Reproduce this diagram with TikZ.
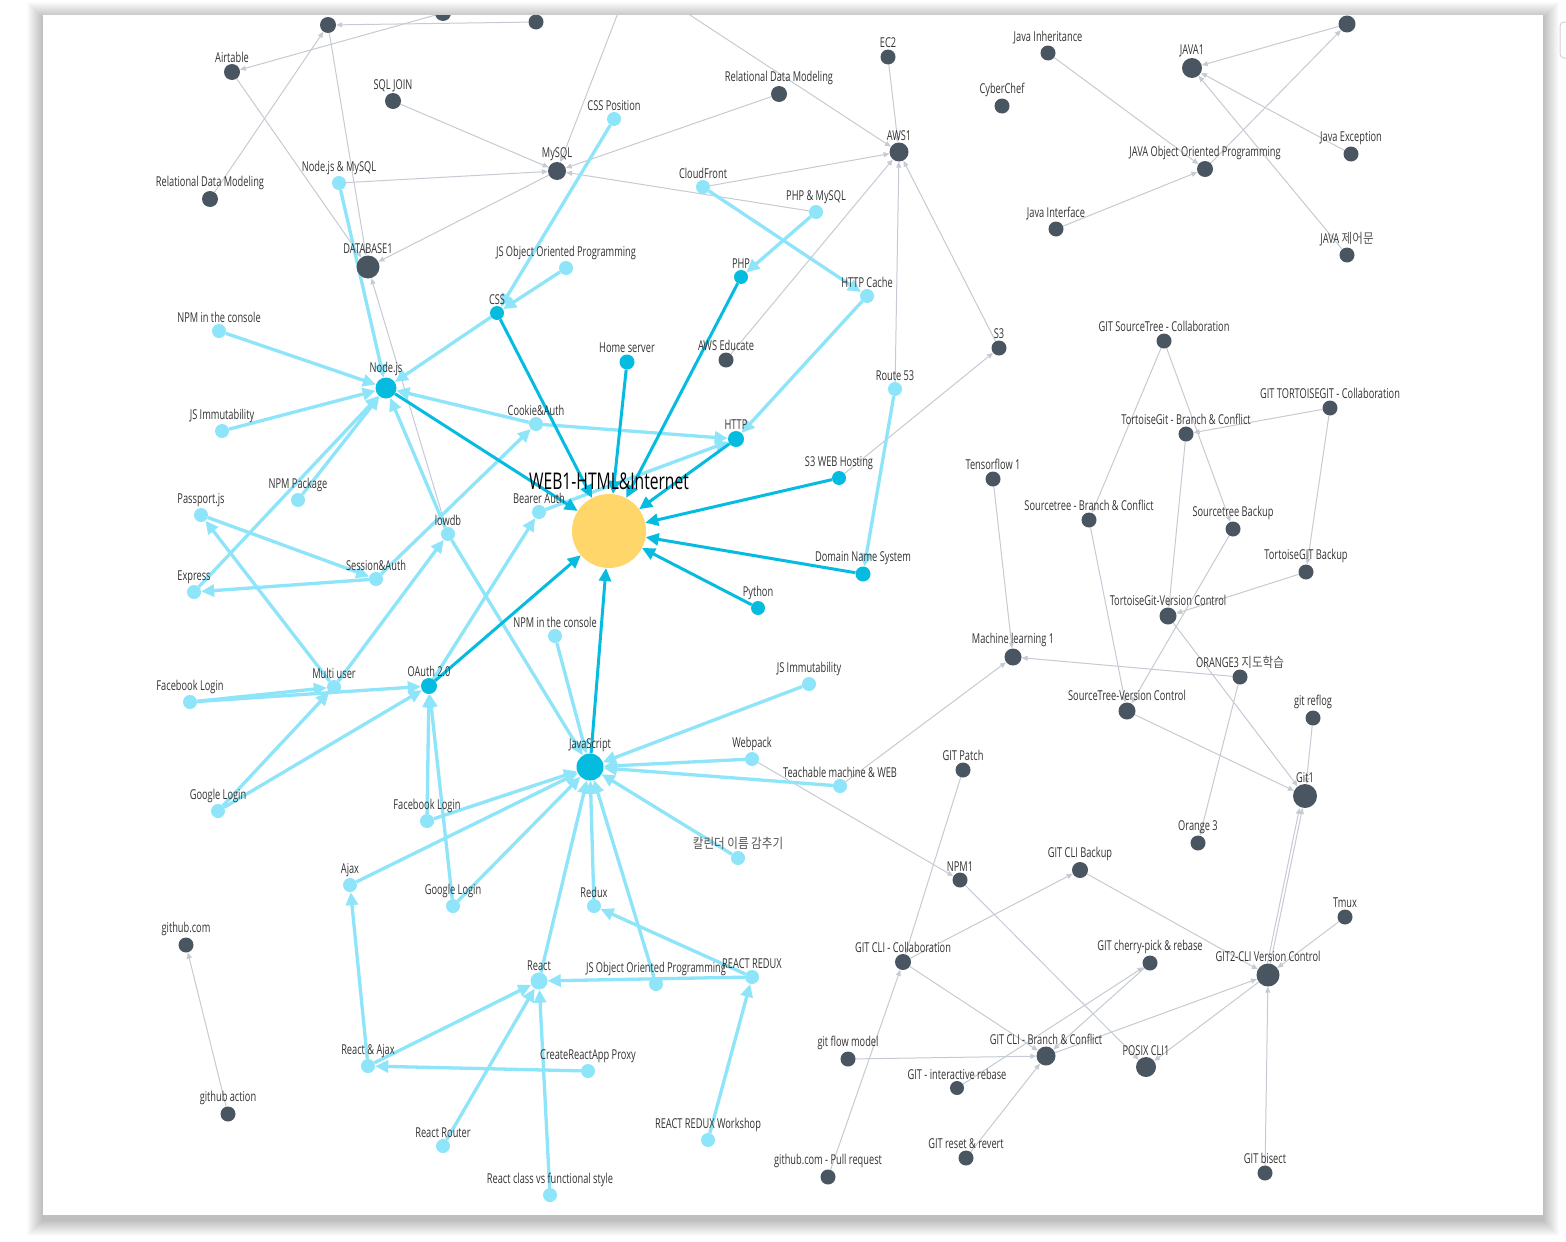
\documentclass[tikz,border=0pt]{standalone}
\usepackage{fontspec}
\setmainfont{Open Sans}[FakeStretch=0.68]
\newfontfamily\kr{Noto Sans CJK KR}[FakeStretch=0.85,Color=555555]
\usetikzlibrary{arrows.meta}
\definecolor{cdk}{HTML}{4A5562}
\definecolor{clt}{HTML}{8EE4F9}
\definecolor{cmd}{HTML}{05BCE0}
\definecolor{cyl}{HTML}{FFD669}
\definecolor{cgr}{HTML}{C6CBD3}
\definecolor{ctx}{HTML}{333333}
\pgfdeclarelayer{bgl}
\pgfdeclarelayer{edl}
\pgfsetlayers{bgl,edl,main}
\newcommand\mynode[5]{\node[#1,label={[lbl]90:#5}] (#2) at (#3,#4) {};}
\begin{document}
\begin{tikzpicture}[x=1pt,y=-1pt,
  nd/.style={circle,inner sep=0pt,minimum size=#1},
  ndk/.style={nd=#1,fill=cdk}, ndk/.default=16,
  nlt/.style={nd=#1,fill=clt}, nlt/.default=14,
  nmd/.style={nd=#1,fill=cmd}, nmd/.default=15,
  nyl/.style={nd=#1,fill=cyl}, nyl/.default=74,
  lbl/.style={font=\fontsize{13.6}{15}\selectfont,text=ctx,inner sep=1pt},
  lblbig/.style={font=\fontsize{23}{25}\selectfont,text=black,inner sep=1pt},
  label distance=0pt,
  egr/.style={draw=cgr,line width=1pt,-{Triangle[length=6pt,width=5pt]}},
  elt/.style={draw=clt,line width=3.3pt,-{Triangle[length=13pt,width=12pt]}},
  emd/.style={draw=cmd,line width=3pt,-{Triangle[length=13pt,width=12pt]}}]
\useasboundingbox (0,0) rectangle (1566,1242);
\begin{pgfonlayer}{bgl}
  \fill[white] (0,0) rectangle (1566,1242);
  \foreach \i in {1,...,16}
    \fill[black,opacity=0.016] (43-\i,15-\i+3) rectangle (1543+\i,1215+\i+5);
  \fill[white] (43,15) rectangle (1543,1215);
  \draw[gray!35,line width=1pt,rounded corners=4pt] (1560,22) rectangle (1590,58);
\end{pgfonlayer}
\begin{scope}
\clip (43,15) rectangle (1543,1215);
% unlabeled nodes
\node[ndk] (t1) at (328,25) {};
\node[ndk] (t2) at (443,13) {};
\node[ndk=15] (t3) at (536,22) {};
\node[ndk=17] (t4) at (1347,24) {};
\coordinate (offA) at (623,0);
\coordinate (offB) at (667,0);
% database / node cluster
\mynode{ndk}{airtable}{232}{72}{Airtable}
\mynode{ndk}{sqljoin}{393}{101}{SQL JOIN}
\mynode{ndk}{rdml}{210}{199}{Relational Data Modeling}
\mynode{nlt}{nodemysql}{339}{183}{Node.js \& MySQL}
\mynode{ndk=23}{db1}{368}{267}{DATABASE1}
\mynode{nlt}{npmc1}{219}{331}{NPM in the console}
\mynode{nmd=21}{nodejs}{386}{388}{Node.js}
\mynode{nlt}{jsim1}{222}{431}{JS Immutability}
\mynode{nlt}{npmpkg}{298}{500}{NPM Package}
\mynode{nlt}{passport}{201}{515}{Passport.js}
\mynode{nlt}{session}{376}{579}{Session\&Auth}
\mynode{nlt}{express}{194}{592}{Express}
\mynode{nlt}{multi}{334}{687}{Multi user}
\mynode{nlt}{fb1}{190}{702}{Facebook Login}
\mynode{nmd=16}{oauth}{429}{686}{OAuth 2.0}
\mynode{nlt}{gl1}{218}{811}{Google Login}
\mynode{nlt}{lowdb}{448}{534}{lowdb}
\mynode{nlt}{cookie}{536}{424}{Cookie\&Auth}
\mynode{nlt}{bearer}{539}{512}{Bearer Auth}
\mynode{nmd=16}{http}{736}{439}{HTTP}
\node[nyl,label={[lblbig,label distance=3pt]90:WEB1-HTML\&Internet}] (web1) at (609,531) {};
\mynode{nmd=14}{python}{758}{608}{Python}
\mynode{nlt}{npmc2}{555}{636}{NPM in the console}
\mynode{nmd=27}{js}{590}{767}{JavaScript}
\mynode{nlt}{webpack}{752}{759}{Webpack}
\mynode{nlt}{jsim2}{809}{684}{JS Immutability}
\mynode{nlt}{teach}{840}{786}{Teachable machine \& WEB}
\mynode{nmd=14}{css}{497}{313}{CSS}
\mynode{nlt}{csspos}{614}{119}{CSS Position}
\mynode{nlt}{jsoop1}{566}{268}{JS Object Oriented Programming}
\mynode{ndk=18}{mysql}{557}{171}{MySQL}
\mynode{ndk}{rdmt}{779}{94}{Relational Data Modeling}
\mynode{nlt}{cloudfront}{703}{187}{CloudFront}
\mynode{nmd=14}{php}{741}{277}{PHP}
\mynode{nmd}{home}{627}{362}{Home server}
\mynode{ndk=15}{awsedu}{726}{360}{AWS Educate}
\mynode{nlt}{phpmysql}{816}{212}{PHP \& MySQL}
\mynode{ndk=15}{ec2}{888}{57}{EC2}
\mynode{ndk=19}{aws1}{899}{152}{AWS1}
\mynode{nlt}{httpcache}{867}{296}{HTTP Cache}
\mynode{ndk=15}{s3}{999}{348}{S3}
\mynode{nlt}{route53}{895}{389}{Route 53}
\mynode{nmd=14}{s3web}{839}{478}{S3 WEB Hosting}
\mynode{nmd}{dns}{863}{574}{Domain Name System}
% java cluster
\mynode{ndk=15}{javainh}{1048}{53}{Java Inheritance}
\mynode{ndk=15}{cyberchef}{1002}{106}{CyberChef}
\mynode{ndk=15}{javaint}{1056}{229}{Java Interface}
\mynode{ndk=20}{java1}{1192}{68}{JAVA1}
\mynode{ndk}{javaoop}{1205}{169}{JAVA Object Oriented Programming}
\mynode{ndk=15}{javaexc}{1351}{154}{Java Exception}
\mynode{ndk=15}{javactl}{1347}{255}{JAVA {\kr 제어문}}
% git / ml cluster
\mynode{ndk=15}{gstcollab}{1164}{341}{GIT SourceTree - Collaboration}
\mynode{ndk=15}{gtgcollab}{1330}{408}{GIT TORTOISEGIT - Collaboration}
\mynode{ndk=15}{tgbc}{1186}{434}{TortoiseGit - Branch \& Conflict}
\mynode{ndk=15}{stbackup}{1233}{529}{Sourcetree Backup}
\mynode{ndk=15}{tgbackup}{1306}{572}{TortoiseGIT Backup}
\mynode{ndk=17}{tgvc}{1168}{616}{TortoiseGit-Version Control}
\mynode{ndk=15}{orange3sl}{1240}{677}{ORANGE3 {\kr 지도학습}}
\mynode{ndk=15}{reflog}{1313}{718}{git reflog}
\mynode{ndk=24}{git1}{1305}{796}{Git1}
\mynode{ndk=15}{tf1}{993}{479}{Tensorflow 1}
\mynode{ndk=15}{stbc}{1089}{520}{Sourcetree - Branch \& Conflict}
\mynode{ndk=17}{ml1}{1013}{657}{Machine learning 1}
\mynode{ndk=17}{stvc}{1127}{711}{SourceTree-Version Control}
\mynode{ndk=15}{gitpatch}{963}{770}{GIT Patch}
\mynode{ndk=15}{orange3}{1198}{843}{Orange 3}
\mynode{ndk=15}{tmux}{1345}{917}{Tmux}
\mynode{ndk=23}{git2}{1268}{975}{GIT2-CLI Version Control}
\mynode{ndk=15}{bisect}{1265}{1173}{GIT bisect}
\mynode{ndk=15}{npm1}{960}{880}{NPM1}
\mynode{ndk}{clibackup}{1080}{870}{GIT CLI Backup}
\mynode{ndk}{clicollab}{903}{962}{GIT CLI - Collaboration}
\mynode{ndk=15}{cherry}{1150}{963}{GIT cherry-pick \& rebase}
\mynode{ndk=19}{clibc}{1046}{1056}{GIT CLI - Branch \& Conflict}
\mynode{ndk=20}{posix}{1146}{1067}{POSIX CLI1}
\mynode{ndk=15}{flow}{848}{1059}{git flow model}
\mynode{ndk=14}{irebase}{957}{1088}{GIT - interactive rebase}
\mynode{ndk=15}{reset}{966}{1158}{GIT reset \& revert}
\mynode{ndk=15}{pullreq}{828}{1177}{github.com - Pull request}
\mynode{ndk=15}{github}{186}{945}{github.com}
\mynode{ndk=15}{ghaction}{228}{1114}{github action}
% react cluster
\mynode{nlt}{ajax}{350}{885}{Ajax}
\mynode{nlt}{reactajax}{368}{1066}{React \& Ajax}
\mynode{nlt}{fb2}{427}{821}{Facebook Login}
\mynode{nlt}{gl2}{453}{906}{Google Login}
\mynode{nlt}{cal}{738}{858}{{\kr 칼린더 이름 감추기}}
\mynode{nlt}{redux}{594}{906}{Redux}
\mynode{nlt=17}{react}{539}{981}{React}
\mynode{nlt}{jsoop2}{656}{984}{JS Object Oriented Programming}
\mynode{nlt}{reactredux}{752}{977}{REACT REDUX}
\mynode{nlt}{crap}{588}{1071}{CreateReactApp Proxy}
\mynode{nlt}{router}{443}{1146}{React Router}
\mynode{nlt}{rrworkshop}{708}{1140}{REACT REDUX Workshop}
\mynode{nlt}{rclass}{550}{1195}{React class vs functional style}
\end{scope}
\begin{pgfonlayer}{edl}
\clip (43,15) rectangle (1543,1215);
\foreach \a/\b in {t3/t1,t2/airtable,rdml/t1,airtable/db1,t1/db1,mysql/db1,lowdb/db1,
  sqljoin/mysql,nodemysql/mysql,offA/mysql,rdmt/mysql,phpmysql/mysql,
  cloudfront/aws1,offB/aws1,ec2/aws1,awsedu/aws1,route53/aws1,s3/aws1,s3web/s3,
  javainh/javaoop,javaint/javaoop,javaoop/t4,t4/java1,javaexc/java1,javactl/java1,
  gstcollab/stbc,gstcollab/stbackup,gtgcollab/tgbc,gtgcollab/tgbackup,tgbc/tgvc,
  tgbackup/tgvc,stbackup/stvc,stbc/stvc,tgvc/git1,stvc/git1,reflog/git1,
  orange3sl/ml1,orange3sl/orange3,tf1/ml1,teach/ml1,webpack/npm1,gitpatch/clicollab,
  pullreq/clicollab,clicollab/clibackup,clicollab/clibc,clibackup/git2,npm1/posix,
  flow/clibc,irebase/cherry,cherry/clibc,reset/clibc,clibc/git2,git2/posix,
  bisect/git2,tmux/git2,git2/git1,ghaction/github}
  \draw[egr] (\a) -- (\b);
\draw[egr,transform canvas={xshift=-3pt}] (git2) -- (git1);
\foreach \a/\b in {nodemysql/nodejs,npmc1/nodejs,jsim1/nodejs,npmpkg/nodejs,
  express/nodejs,lowdb/nodejs,css/nodejs,cookie/nodejs,cookie/http,bearer/http,
  session/cookie,multi/lowdb,passport/session,session/express,multi/passport,
  fb1/multi,fb1/oauth,gl1/multi,gl1/oauth,fb2/oauth,gl2/oauth,oauth/bearer,
  lowdb/js,npmc2/js,jsim2/js,webpack/js,teach/js,cal/js,redux/js,react/js,
  jsoop2/js,fb2/js,ajax/js,gl2/js,reactredux/redux,reactredux/react,
  reactajax/react,reactajax/ajax,crap/reactajax,router/react,rclass/react,
  rrworkshop/reactredux,csspos/css,jsoop1/css,cloudfront/httpcache,
  phpmysql/php,httpcache/http,route53/dns}
  \draw[elt] (\a) -- (\b);
\foreach \a in {nodejs,css,home,php,http,s3web,dns,python,js,oauth}
  \draw[emd] (\a) -- (web1);
\end{pgfonlayer}
\end{tikzpicture}
\end{document}
